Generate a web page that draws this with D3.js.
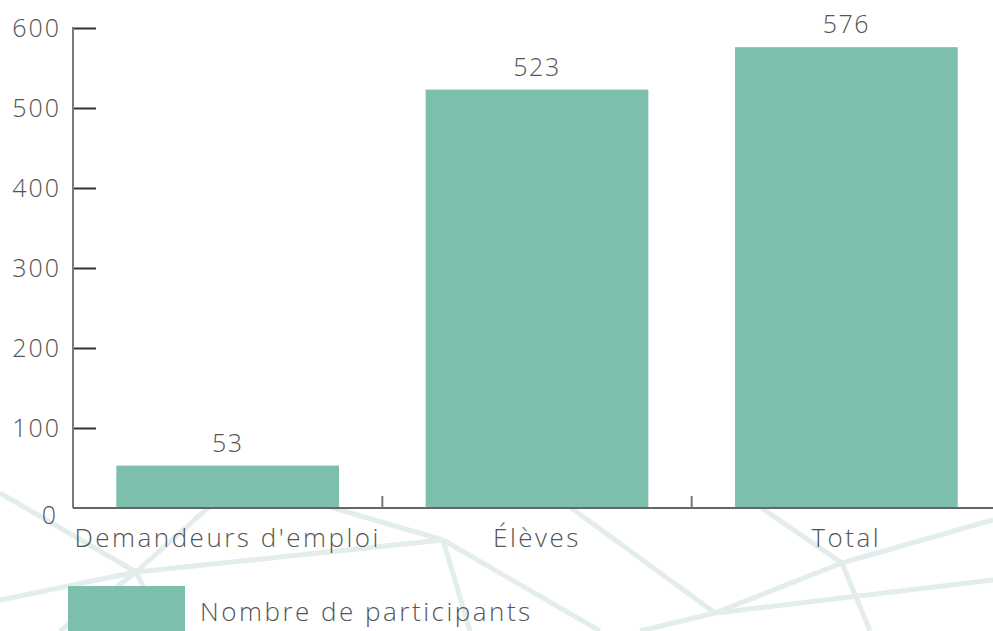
<!DOCTYPE html>
<html>
<head>
<meta charset="utf-8">
<script src="https://cdn.jsdelivr.net/npm/d3@7"></script>
<style>
  body { margin: 0; background: #fff; }
  svg { display: block; }
  text { font-family: "Open Sans", sans-serif; font-weight: 300; fill: #555; }
  .tick-label { font-size: 25px; letter-spacing: 2px; }
  .val { font-size: 25px; letter-spacing: 1.5px; }
  .cat, .legend-label { font-size: 26px; letter-spacing: 2.5px; }
</style>
</head>
<body>
<svg width="993" height="631"></svg>
<script>
// chart data
const categories = ["Demandeurs d'emploi", "Élèves", "Total"];
const participants = [53, 523, 576];
const yTicks = [0, 100, 200, 300, 400, 500, 600];
const seriesName = "Nombre de participants";

const W = 993, H = 631;
const plotLeft = 73, plotRight = 1001, plotTop = 28, plotBottom = 508;
const barColor = "#7bbfac";

const svg = d3.select("svg");

// faint network pattern in the background
const bg = svg.append("g")
  .attr("stroke", "#c3d8d4")
  .attr("stroke-width", 5)
  .attr("opacity", 0.45)
  .attr("fill", "none");
const net = [
  [0, 493, 136, 572], [136, 572, 443, 540], [0, 600, 136, 572], [136, 572, 165, 631],
  [136, 572, 209, 507], [136, 572, 60, 631], [443, 540, 470, 631], [443, 540, 330, 507],
  [570, 507, 715, 613], [715, 613, 842, 563], [715, 613, 993, 580], [715, 613, 640, 631],
  [842, 563, 993, 520], [842, 563, 870, 631], [842, 563, 760, 507], [443, 540, 600, 631]
];
net.forEach(l => bg.append("line").attr("x1", l[0]).attr("y1", l[1]).attr("x2", l[2]).attr("y2", l[3]));

const y = d3.scaleLinear().domain([0, 600]).range([plotBottom, plotTop]);

// category slots (full width) and bars inside them
const xSlot = d3.scaleBand().domain(categories).range([plotLeft, plotRight]).padding(0);
const xBar = d3.scaleBand().domain(categories).range([plotLeft, plotRight])
  .paddingInner(0.28).paddingOuter(0.14);

// bars
svg.selectAll("rect.bar")
  .data(categories)
  .enter()
  .append("rect")
  .attr("class", "bar")
  .attr("x", d => xBar(d))
  .attr("width", xBar.bandwidth())
  .attr("y", (d, i) => y(participants[i]))
  .attr("height", (d, i) => y(0) - y(participants[i]))
  .attr("fill", barColor);

// value labels
svg.selectAll("text.val")
  .data(categories)
  .enter()
  .append("text")
  .attr("class", "val")
  .attr("text-anchor", "middle")
  .attr("x", d => xBar(d) + xBar.bandwidth() / 2)
  .attr("y", (d, i) => y(participants[i]) - 14)
  .text((d, i) => participants[i]);

// y axis
const yAxis = svg.append("g")
  .attr("transform", `translate(${plotLeft},0)`)
  .call(d3.axisRight(y).tickValues(yTicks.filter(t => t > 0)).tickSize(23).tickFormat(""));
yAxis.select(".domain").remove();
yAxis.selectAll(".tick line").attr("stroke", "#333").attr("stroke-width", 2);
svg.append("line")
  .attr("x1", plotLeft).attr("x2", plotLeft)
  .attr("y1", y(600) - 1).attr("y2", y(0))
  .attr("stroke", "#7a7a7a").attr("stroke-width", 2);

svg.selectAll("text.tick-label")
  .data(yTicks)
  .enter()
  .append("text")
  .attr("class", "tick-label")
  .attr("text-anchor", "end")
  .attr("x", d => d === 0 ? 58 : 61)
  .attr("y", d => y(d) + (d === 0 ? 16 : 9))
  .text(d => d);

// x axis
svg.append("line")
  .attr("x1", plotLeft).attr("x2", W)
  .attr("y1", plotBottom).attr("y2", plotBottom)
  .attr("stroke", "#666").attr("stroke-width", 2);

svg.selectAll("line.slot")
  .data(categories.slice(1))
  .enter()
  .append("line")
  .attr("class", "slot")
  .attr("x1", d => xSlot(d)).attr("x2", d => xSlot(d))
  .attr("y1", plotBottom).attr("y2", plotBottom - 12)
  .attr("stroke", "#777").attr("stroke-width", 2);

svg.selectAll("text.cat")
  .data(categories)
  .enter()
  .append("text")
  .attr("class", "cat")
  .attr("text-anchor", "middle")
  .attr("x", d => xSlot(d) + xSlot.bandwidth() / 2)
  .attr("y", 547)
  .text(d => d);

// legend
svg.append("rect")
  .attr("x", 68).attr("y", 586)
  .attr("width", 117).attr("height", 50)
  .attr("fill", barColor);
svg.append("text")
  .attr("class", "legend-label")
  .attr("x", 200).attr("y", 621)
  .text(seriesName);
</script>
</body>
</html>
